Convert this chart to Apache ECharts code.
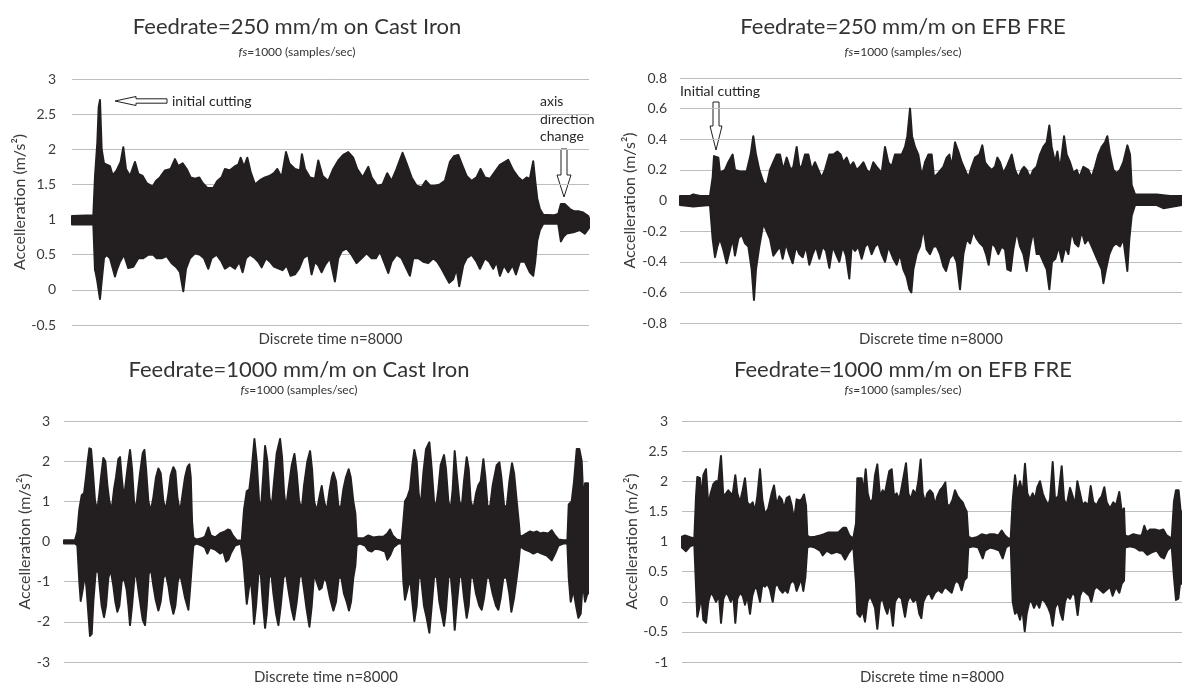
<!DOCTYPE html>
<html>
<head>
<meta charset="utf-8">
<title>Acceleration signals</title>
<script src="https://cdn.jsdelivr.net/npm/echarts@6/dist/echarts.min.js"></script>
<style>
  html, body { margin: 0; padding: 0; background: #fff; }
  #chart { width: 1182px; height: 686px; }
</style>
</head>
<body>
<div id="chart"></div>
<script>
// envelopes: [sample n, acceleration]
const tlUpper = [[0,1.05],[330,1.06],[356,1.62],[392,2.1],[413,2.6],[433,2.7],[459,2.0],[495,1.8],[588,1.76],[629,1.63],[691,1.7],[753,1.82],[794,2.03],[835,1.72],[897,1.62],[975,1.82],[1026,1.65],[1093,1.62],[1155,1.52],[1248,1.47],[1299,1.55],[1361,1.6],[1439,1.7],[1526,1.72],[1593,1.86],[1645,1.76],[1712,1.8],[1774,1.72],[1836,1.6],[1903,1.58],[1970,1.6],[2021,1.52],[2094,1.45],[2186,1.45],[2248,1.55],[2315,1.6],[2367,1.72],[2444,1.7],[2522,1.76],[2573,1.78],[2609,1.88],[2661,1.75],[2713,1.88],[2764,1.68],[2831,1.5],[2909,1.56],[2986,1.6],[3053,1.62],[3125,1.66],[3177,1.72],[3244,1.6],[3311,1.96],[3362,1.8],[3450,1.72],[3527,1.7],[3558,1.93],[3605,1.72],[3682,1.6],[3759,1.58],[3811,1.84],[3878,1.62],[3965,1.55],[4043,1.72],[4120,1.84],[4197,1.92],[4275,1.96],[4352,1.88],[4414,1.72],[4497,1.6],[4584,1.75],[4636,1.6],[4723,1.48],[4806,1.5],[4878,1.66],[4945,1.55],[5023,1.72],[5115,1.95],[5177,1.8],[5255,1.6],[5332,1.48],[5409,1.46],[5476,1.55],[5548,1.48],[5616,1.48],[5693,1.5],[5770,1.55],[5848,1.82],[5910,1.9],[5977,1.92],[6044,1.76],[6106,1.62],[6184,1.55],[6260,1.6],[6322,1.72],[6389,1.6],[6467,1.58],[6544,1.68],[6621,1.78],[6699,1.82],[6750,1.85],[6828,1.7],[6905,1.6],[6972,1.55],[7034,1.6],[7085,1.58],[7137,1.83],[7168,1.55],[7199,1.3],[7240,1.15],[7292,1.07],[7446,1.06],[7524,1.08],[7565,1.22],[7627,1.22],[7704,1.15],[7766,1.12],[7833,1.12],[7910,1.1],[7988,1.05],[8000,1.02]];
const tlLower = [[0,0.93],[330,0.93],[356,0.28],[366,0.25],[392,0.12],[433,-0.13],[459,0.12],[495,0.45],[536,0.5],[588,0.45],[665,0.19],[700,0.3],[743,0.4],[804,0.5],[871,0.31],[949,0.33],[1026,0.45],[1103,0.45],[1181,0.5],[1258,0.5],[1310,0.45],[1387,0.45],[1465,0.48],[1542,0.38],[1619,0.32],[1671,0.25],[1722,-0.02],[1764,0.3],[1826,0.45],[1903,0.52],[1980,0.5],[2042,0.45],[2109,0.3],[2160,0.45],[2238,0.5],[2315,0.4],[2367,0.3],[2444,0.35],[2522,0.3],[2589,0.4],[2640,0.25],[2692,0.45],[2754,0.5],[2831,0.45],[2883,0.4],[2934,0.32],[3001,0.45],[3063,0.4],[3125,0.33],[3208,0.3],[3259,0.28],[3321,0.35],[3383,0.2],[3450,0.22],[3512,0.3],[3579,0.45],[3656,0.5],[3707,0.22],[3759,0.4],[3810,0.35],[3862,0.25],[3914,0.35],[3991,0.45],[4068,0.12],[4120,0.45],[4172,0.55],[4249,0.59],[4326,0.5],[4404,0.38],[4481,0.45],[4558,0.52],[4636,0.45],[4703,0.45],[4765,0.55],[4827,0.4],[4894,0.24],[4945,0.4],[5023,0.5],[5100,0.45],[5177,0.3],[5229,0.2],[5280,0.45],[5358,0.45],[5435,0.4],[5512,0.38],[5590,0.45],[5652,0.4],[5719,0.3],[5796,0.17],[5837,0.1],[5899,0.15],[5951,0.3],[5992,0.05],[6054,0.35],[6106,0.45],[6184,0.5],[6260,0.4],[6312,0.3],[6389,0.45],[6456,0.4],[6518,0.3],[6570,0.4],[6621,0.2],[6683,0.35],[6750,0.25],[6817,0.35],[6869,0.22],[6931,0.4],[7008,0.4],[7085,0.25],[7137,0.2],[7168,0.4],[7199,0.7],[7240,0.85],[7292,0.94],[7524,0.94],[7565,0.69],[7601,0.75],[7653,0.8],[7756,0.82],[7859,0.85],[7936,0.8],[8000,0.88]];

const trUpper = [[0,0.03],[160,0.03],[212,0.04],[320,0.03],[478,0.03],[520,0.15],[542,0.29],[611,0.28],[637,0.18],[717,0.2],[770,0.25],[839,0.3],[876,0.2],[956,0.19],[1062,0.19],[1126,0.3],[1168,0.42],[1211,0.3],[1264,0.2],[1328,0.12],[1381,0.1],[1434,0.2],[1487,0.25],[1540,0.3],[1593,0.3],[1646,0.2],[1700,0.28],[1763,0.2],[1806,0.22],[1859,0.35],[1902,0.22],[1939,0.22],[1992,0.3],[2045,0.3],[2098,0.2],[2151,0.25],[2204,0.2],[2257,0.15],[2311,0.2],[2380,0.3],[2443,0.3],[2507,0.32],[2560,0.3],[2603,0.25],[2656,0.28],[2709,0.22],[2762,0.25],[2815,0.2],[2868,0.22],[2922,0.25],[2975,0.2],[3028,0.18],[3081,0.25],[3134,0.22],[3214,0.18],[3267,0.35],[3320,0.25],[3373,0.22],[3426,0.3],[3480,0.3],[3533,0.3],[3586,0.35],[3623,0.42],[3666,0.6],[3698,0.42],[3745,0.35],[3798,0.3],[3852,0.16],[3905,0.25],[3958,0.3],[4011,0.3],[4048,0.15],[4117,0.18],[4197,0.22],[4250,0.28],[4293,0.3],[4330,0.22],[4383,0.38],[4436,0.32],[4489,0.25],[4542,0.2],[4595,0.15],[4648,0.22],[4701,0.28],[4771,0.3],[4818,0.36],[4861,0.25],[4914,0.22],[4967,0.2],[5020,0.22],[5057,0.28],[5100,0.25],[5153,0.18],[5206,0.22],[5286,0.3],[5339,0.2],[5392,0.15],[5445,0.2],[5482,0.22],[5525,0.2],[5578,0.15],[5631,0.2],[5684,0.22],[5737,0.3],[5790,0.35],[5844,0.38],[5886,0.49],[5923,0.35],[5976,0.25],[6014,0.32],[6056,0.2],[6120,0.42],[6162,0.3],[6215,0.25],[6269,0.18],[6322,0.2],[6364,0.15],[6428,0.22],[6508,0.2],[6561,0.15],[6614,0.22],[6667,0.3],[6720,0.35],[6773,0.38],[6810,0.42],[6853,0.3],[6906,0.2],[6959,0.18],[7012,0.2],[7065,0.25],[7129,0.36],[7172,0.3],[7198,0.1],[7251,0.04],[7384,0.04],[7597,0.04],[7810,0.03],[8000,0.03]];
const trLower = [[0,-0.03],[212,-0.04],[478,-0.03],[520,-0.25],[558,-0.37],[595,-0.3],[637,-0.25],[690,-0.32],[743,-0.41],[797,-0.32],[839,-0.25],[876,-0.36],[929,-0.25],[982,-0.22],[1036,-0.28],[1089,-0.3],[1142,-0.45],[1179,-0.65],[1211,-0.45],[1264,-0.3],[1328,-0.15],[1381,-0.2],[1434,-0.25],[1487,-0.36],[1540,-0.33],[1593,-0.3],[1636,-0.38],[1689,-0.28],[1742,-0.35],[1795,-0.41],[1848,-0.3],[1902,-0.35],[1955,-0.37],[2008,-0.3],[2061,-0.42],[2114,-0.35],[2168,-0.3],[2220,-0.38],[2273,-0.3],[2327,-0.33],[2380,-0.44],[2433,-0.3],[2486,-0.35],[2539,-0.4],[2592,-0.3],[2645,-0.36],[2698,-0.51],[2735,-0.3],[2789,-0.33],[2842,-0.3],[2895,-0.38],[2948,-0.3],[3001,-0.28],[3054,-0.35],[3107,-0.3],[3160,-0.28],[3214,-0.35],[3267,-0.4],[3320,-0.3],[3400,-0.38],[3453,-0.42],[3506,-0.35],[3559,-0.45],[3612,-0.5],[3655,-0.58],[3687,-0.6],[3719,-0.45],[3772,-0.35],[3825,-0.3],[3878,-0.18],[3931,-0.32],[3984,-0.35],[4037,-0.3],[4090,-0.3],[4144,-0.35],[4197,-0.43],[4239,-0.46],[4292,-0.38],[4356,-0.35],[4409,-0.4],[4462,-0.58],[4516,-0.35],[4569,-0.25],[4622,-0.28],[4675,-0.2],[4728,-0.25],[4781,-0.28],[4834,-0.3],[4877,-0.35],[4919,-0.42],[4967,-0.28],[5020,-0.3],[5073,-0.35],[5127,-0.3],[5180,-0.32],[5217,-0.45],[5270,-0.46],[5312,-0.32],[5366,-0.2],[5419,-0.3],[5472,-0.35],[5525,-0.46],[5578,-0.3],[5631,-0.2],[5684,-0.35],[5737,-0.35],[5790,-0.4],[5844,-0.45],[5886,-0.58],[5928,-0.4],[5981,-0.38],[6035,-0.3],[6088,-0.4],[6141,-0.3],[6189,-0.35],[6242,-0.2],[6295,-0.28],[6348,-0.3],[6402,-0.2],[6455,-0.28],[6508,-0.25],[6561,-0.3],[6614,-0.35],[6667,-0.4],[6720,-0.45],[6747,-0.54],[6789,-0.45],[6842,-0.35],[6895,-0.3],[6948,-0.28],[7012,-0.3],[7065,-0.25],[7129,-0.46],[7161,-0.25],[7198,-0.1],[7251,-0.03],[7597,-0.03],[7703,-0.05],[8000,-0.03]];

const blUpper = [[0,0.03],[168,0.03],[204,0.25],[234,0.8],[270,1.15],[306,1.2],[336,1.6],[362,2.0],[387,2.32],[413,2.3],[438,1.8],[474,1.0],[509,0.78],[540,1.2],[565,1.6],[601,2.08],[631,2.0],[662,1.4],[692,1.0],[728,0.78],[764,1.3],[794,1.6],[830,2.05],[855,2.1],[881,1.6],[906,1.2],[932,1.3],[972,1.85],[1008,2.28],[1039,1.8],[1069,1.0],[1100,0.78],[1125,1.2],[1161,1.7],[1202,2.2],[1227,2.28],[1253,1.8],[1288,1.0],[1324,0.75],[1364,1.1],[1405,1.6],[1441,1.82],[1476,1.7],[1517,1.0],[1553,0.78],[1594,1.2],[1629,1.65],[1670,1.85],[1700,1.75],[1731,1.1],[1772,0.72],[1812,1.2],[1848,1.6],[1884,1.85],[1914,1.92],[1935,1.6],[1955,0.5],[1975,0.1],[2026,0.05],[2103,0.08],[2153,0.12],[2204,0.35],[2240,0.15],[2306,0.1],[2382,0.2],[2459,0.25],[2500,0.3],[2535,0.28],[2576,0.15],[2637,0.03],[2713,0.02],[2749,0.8],[2790,1.25],[2830,1.3],[2866,1.8],[2907,2.55],[2942,2.0],[2978,1.0],[3009,0.85],[3044,1.7],[3070,2.38],[3105,2.0],[3136,1.1],[3171,0.85],[3207,1.5],[3248,2.2],[3299,2.55],[3329,2.1],[3360,1.2],[3390,0.8],[3426,1.3],[3477,1.9],[3518,2.18],[3553,1.7],[3589,1.0],[3630,0.8],[3665,1.4],[3716,2.0],[3757,2.25],[3787,1.8],[3818,1.0],[3858,0.75],[3899,1.1],[3935,1.38],[3970,1.0],[4011,0.75],[4052,1.25],[4090,1.6],[4112,1.72],[4153,1.5],[4188,0.9],[4224,0.8],[4265,1.3],[4305,1.6],[4346,1.8],[4377,1.6],[4417,1.0],[4448,0.7],[4468,0.1],[4494,0.08],[4570,0.08],[4646,0.15],[4723,0.1],[4799,0.12],[4876,0.12],[4937,0.2],[4977,0.3],[5018,0.15],[5079,0.05],[5155,0.02],[5181,0.5],[5206,1.0],[5242,1.1],[5282,1.3],[5318,1.9],[5349,2.28],[5384,2.0],[5415,1.2],[5445,0.85],[5486,1.7],[5527,2.3],[5578,2.47],[5614,1.8],[5649,1.0],[5680,0.85],[5715,1.3],[5751,1.9],[5802,2.15],[5832,1.8],[5868,1.0],[5904,0.8],[5934,1.3],[5965,2.25],[5995,1.7],[6036,1.0],[6072,0.85],[6107,1.5],[6148,2.1],[6179,1.8],[6209,1.0],[6250,0.8],[6291,1.2],[6326,1.4],[6362,1.5],[6403,2.05],[6433,1.6],[6464,0.9],[6504,0.85],[6545,1.4],[6606,1.9],[6647,1.97],[6677,1.6],[6718,0.9],[6759,0.85],[6800,1.5],[6840,1.95],[6871,1.7],[6912,1.0],[6942,0.5],[6962,0.12],[7013,0.15],[7064,0.2],[7115,0.25],[7166,0.22],[7217,0.25],[7268,0.2],[7319,0.22],[7395,0.2],[7446,0.28],[7497,0.15],[7548,0.05],[7624,0.03],[7685,0.03],[7706,0.92],[7751,1.0],[7787,1.5],[7828,2.3],[7868,2.3],[7904,2.0],[7929,1.0],[7955,1.45],[7980,1.45],[8000,1.45]];
const blLower = [[0,-0.05],[168,-0.05],[204,-0.1],[234,-1.0],[255,-1.48],[285,-1.2],[321,-0.8],[346,-1.2],[372,-1.8],[397,-2.35],[423,-2.3],[448,-1.5],[484,-0.75],[525,-0.75],[550,-1.2],[575,-1.6],[611,-1.88],[642,-1.6],[677,-0.9],[713,-0.7],[753,-1.1],[784,-1.5],[815,-1.75],[845,-1.6],[881,-1.0],[916,-0.9],[957,-1.2],[983,-1.6],[1008,-2.08],[1039,-1.6],[1075,-0.9],[1100,-0.75],[1135,-1.2],[1171,-1.6],[1202,-1.95],[1237,-2.08],[1263,-1.6],[1293,-0.8],[1329,-0.7],[1364,-1.1],[1400,-1.45],[1441,-1.72],[1476,-1.5],[1517,-0.9],[1553,-0.8],[1594,-1.1],[1629,-1.5],[1670,-1.8],[1700,-1.6],[1736,-1.0],[1772,-0.8],[1812,-1.1],[1848,-1.4],[1899,-1.7],[1924,-1.2],[1955,-0.5],[1975,-0.1],[2026,-0.05],[2103,-0.1],[2153,-0.15],[2189,-0.3],[2230,-0.15],[2306,-0.2],[2382,-0.3],[2433,-0.25],[2474,-0.5],[2510,-0.45],[2545,-0.3],[2611,-0.1],[2698,-0.05],[2739,-0.5],[2764,-1.0],[2790,-1.55],[2820,-1.2],[2851,-0.9],[2882,-1.5],[2902,-2.05],[2932,-1.6],[2968,-0.8],[3004,-0.8],[3034,-1.5],[3070,-2.15],[3095,-1.8],[3131,-0.9],[3166,-0.8],[3197,-1.3],[3238,-1.8],[3273,-2.08],[3309,-1.6],[3350,-0.9],[3390,-0.8],[3426,-1.2],[3477,-1.7],[3512,-1.95],[3553,-1.5],[3594,-0.9],[3630,-0.8],[3665,-1.2],[3706,-1.7],[3747,-2.12],[3782,-1.6],[3818,-0.8],[3858,-1.0],[3899,-1.2],[3935,-1.15],[3970,-0.9],[4011,-1.0],[4061,-1.4],[4112,-1.72],[4153,-1.5],[4193,-0.9],[4234,-0.9],[4275,-1.3],[4316,-1.5],[4351,-1.72],[4382,-1.5],[4417,-0.9],[4448,-0.6],[4468,-0.1],[4519,-0.05],[4595,-0.1],[4646,-0.22],[4697,-0.25],[4748,-0.18],[4825,-0.2],[4901,-0.25],[4937,-0.45],[4977,-0.35],[5028,-0.15],[5104,-0.05],[5155,-0.05],[5181,-1.0],[5206,-1.45],[5242,-1.2],[5282,-0.9],[5318,-1.5],[5349,-1.98],[5384,-1.6],[5415,-0.9],[5451,-0.9],[5496,-1.6],[5537,-1.9],[5578,-2.27],[5614,-1.6],[5649,-0.9],[5690,-0.85],[5731,-1.5],[5766,-1.8],[5802,-2.1],[5832,-1.7],[5868,-0.9],[5904,-0.85],[5934,-1.4],[5965,-2.2],[5995,-1.6],[6036,-0.9],[6072,-0.85],[6107,-1.4],[6148,-1.9],[6179,-1.6],[6209,-0.9],[6250,-0.9],[6291,-1.3],[6341,-1.6],[6377,-1.7],[6413,-1.4],[6453,-0.9],[6494,-0.9],[6545,-1.3],[6596,-1.6],[6631,-1.7],[6667,-1.4],[6708,-0.9],[6759,-0.9],[6800,-1.3],[6830,-1.75],[6871,-1.4],[6912,-0.9],[6942,-0.5],[6962,-0.12],[7039,-0.2],[7115,-0.25],[7166,-0.3],[7227,-0.25],[7293,-0.3],[7370,-0.35],[7446,-0.47],[7497,-0.3],[7548,-0.1],[7624,-0.05],[7685,-0.05],[7706,-0.9],[7736,-1.5],[7777,-1.2],[7818,-1.6],[7853,-1.9],[7889,-1.8],[7919,-1.0],[7955,-1.5],[7990,-1.3],[8000,-1.3]];

const brUpper = [[0,1.08],[48,1.1],[128,1.07],[197,1.05],[224,1.75],[245,2.07],[288,2.05],[315,1.7],[341,2.1],[384,2.2],[421,1.6],[459,1.8],[501,1.95],[544,2.0],[581,2.0],[624,2.42],[661,1.75],[704,1.8],[741,1.85],[779,1.8],[811,1.78],[853,2.1],[885,1.8],[928,1.65],[971,1.85],[1008,2.05],[1045,1.65],[1088,1.6],[1131,1.65],[1168,1.5],[1205,1.75],[1248,2.2],[1285,1.7],[1328,1.45],[1381,1.55],[1435,1.8],[1472,1.93],[1515,1.6],[1557,1.75],[1595,1.7],[1632,1.55],[1675,1.72],[1717,1.75],[1755,1.6],[1792,1.35],[1834,1.7],[1877,1.68],[1914,1.7],[1952,1.78],[1984,1.6],[2005,1.1],[2048,1.07],[2128,1.08],[2208,1.1],[2272,1.12],[2341,1.15],[2421,1.15],[2501,1.15],[2581,1.23],[2624,1.23],[2677,1.1],[2741,1.05],[2784,1.3],[2805,2.05],[2837,2.05],[2875,2.05],[2901,1.8],[2939,2.2],[2971,1.8],[3008,1.65],[3051,1.7],[3088,2.1],[3125,2.28],[3168,1.75],[3211,1.85],[3248,1.8],[3285,2.0],[3317,2.17],[3355,2.2],[3392,1.75],[3434,1.8],[3477,1.7],[3515,1.9],[3584,2.3],[3621,1.8],[3659,1.7],[3701,1.85],[3744,1.78],[3781,2.0],[3819,2.36],[3851,1.8],[3888,1.65],[3925,1.8],[3968,1.85],[4011,1.8],[4048,1.6],[4085,1.75],[4128,1.85],[4171,1.9],[4213,1.98],[4245,1.6],[4288,1.6],[4331,1.7],[4368,1.85],[4411,1.75],[4448,1.7],[4491,1.65],[4528,1.55],[4555,1.5],[4581,1.08],[4635,1.05],[4715,1.07],[4795,1.12],[4875,1.1],[4928,1.12],[4992,1.12],[5061,1.1],[5115,1.18],[5168,1.1],[5221,1.05],[5259,1.05],[5291,1.67],[5328,2.1],[5365,1.8],[5408,2.0],[5451,1.8],[5488,2.29],[5525,1.8],[5568,1.7],[5611,1.8],[5648,1.7],[5685,1.9],[5728,2.0],[5771,1.8],[5808,1.7],[5861,1.6],[5888,1.7],[5931,2.32],[5968,1.7],[6021,1.75],[6075,2.25],[6112,1.7],[6154,1.6],[6208,1.89],[6251,1.75],[6288,1.6],[6325,2.0],[6368,1.8],[6411,1.6],[6448,1.65],[6501,1.6],[6539,1.92],[6581,1.65],[6635,1.6],[6677,1.7],[6715,1.75],[6757,1.9],[6795,1.65],[6848,1.55],[6901,1.65],[6944,1.6],[6997,1.82],[7035,1.5],[7072,1.55],[7088,1.1],[7141,1.08],[7221,1.12],[7301,1.1],[7355,1.1],[7397,1.26],[7435,1.15],[7488,1.2],[7568,1.2],[7637,1.18],[7701,1.2],[7755,1.1],[7835,1.05],[7872,1.67],[7904,1.85],[7946,1.85],[7978,1.5],[8000,1.5]];
const brLower = [[0,0.9],[64,0.84],[128,0.92],[197,0.95],[224,0.25],[245,-0.25],[277,-0.1],[309,0.1],[341,-0.3],[384,-0.35],[421,0.0],[459,0.15],[501,0.1],[544,0.0],[592,0.1],[624,-0.35],[661,0.05],[704,0.15],[741,0.1],[779,0.0],[821,0.1],[853,-0.35],[885,0.05],[928,0.15],[971,0.1],[1008,-0.05],[1045,0.1],[1088,-0.2],[1125,0.1],[1168,0.25],[1205,0.2],[1248,0.0],[1285,0.28],[1328,0.25],[1365,0.3],[1408,0.2],[1451,0.0],[1488,0.25],[1525,0.3],[1568,0.2],[1611,0.15],[1648,0.2],[1691,0.15],[1728,0.3],[1771,0.35],[1808,0.3],[1834,0.18],[1877,0.3],[1904,0.4],[1941,0.18],[1973,0.4],[2005,0.9],[2048,0.92],[2128,0.9],[2208,0.85],[2251,0.77],[2315,0.85],[2395,0.8],[2475,0.83],[2555,0.8],[2608,0.7],[2661,0.8],[2741,0.92],[2784,0.3],[2805,-0.2],[2848,-0.25],[2891,-0.15],[2928,-0.33],[2965,0.0],[3008,0.1],[3051,0.0],[3088,-0.1],[3125,-0.45],[3168,0.0],[3211,0.05],[3248,-0.1],[3285,-0.2],[3328,0.0],[3375,-0.4],[3408,0.0],[3461,0.1],[3515,0.05],[3568,-0.25],[3605,0.0],[3648,0.1],[3701,0.0],[3755,0.05],[3797,-0.2],[3829,-0.27],[3861,0.0],[3904,0.1],[3957,0.15],[3999,0.05],[4048,0.15],[4101,0.2],[4155,0.15],[4208,0.25],[4261,0.2],[4315,0.15],[4357,0.3],[4395,0.35],[4437,0.3],[4475,0.19],[4512,0.35],[4555,0.4],[4581,0.9],[4661,0.92],[4741,0.9],[4811,0.72],[4848,0.85],[4928,0.9],[5008,0.88],[5077,0.85],[5131,0.72],[5184,0.9],[5259,0.95],[5291,0.0],[5328,-0.2],[5365,-0.15],[5408,-0.3],[5445,-0.1],[5483,-0.49],[5515,-0.2],[5557,0.0],[5595,0.0],[5632,-0.1],[5675,0.0],[5717,-0.1],[5755,0.05],[5808,0.0],[5861,-0.1],[5898,-0.2],[5931,-0.4],[5968,-0.1],[6021,0.0],[6059,-0.2],[6091,-0.3],[6128,0.0],[6165,0.1],[6208,0.05],[6251,0.15],[6288,0.1],[6330,-0.22],[6368,0.1],[6411,0.2],[6464,0.15],[6517,0.1],[6549,0.0],[6592,0.2],[6635,0.25],[6688,0.2],[6741,0.15],[6795,0.2],[6848,0.25],[6890,0.1],[6944,0.25],[6997,0.15],[7035,0.3],[7072,0.35],[7088,0.9],[7168,0.92],[7248,0.9],[7317,0.85],[7381,0.85],[7445,0.78],[7515,0.82],[7595,0.85],[7659,0.75],[7712,0.72],[7765,0.85],[7835,0.92],[7872,0.4],[7904,0.03],[7941,0.05],[7968,0.3],[8000,0.3]];

// y axis: [min, max, interval]
const tlTicks = [-0.5, 3, 0.5];
const trTicks = [-0.8, 0.8, 0.2];
const blTicks = [-3, 3, 1];
const brTicks = [-1, 3, 0.5];

const titles = ['Feedrate=250 mm/m on Cast Iron', 'Feedrate=250 mm/m on EFB FRE',
  'Feedrate=1000 mm/m on Cast Iron', 'Feedrate=1000 mm/m on EFB FRE'];
const subTitle = '{i|fs}=1000 (samples/sec)';
const xName = 'Discrete time n=8000';
const yName = 'Accelleration (m/s\u00b2)';

const INK = '#231f20';
const TXT = '#3a3a3a';
const FONT = 'Lato';

const panels = [
  { grid: { left: 72, top: 79, width: 517, height: 246 }, ticks: tlTicks, up: tlUpper, lo: tlLower, cx: 297, ty: 16, sy: 46, yGap: 39, lblGap: 16, xGap: 7 },
  { grid: { left: 680, top: 78, width: 502, height: 245 }, ticks: trTicks, up: trUpper, lo: trLower, cx: 903, ty: 16, sy: 46, yGap: 42, lblGap: 13, xGap: 9 },
  { grid: { left: 64, top: 421, width: 524, height: 243 }, ticks: blTicks, up: blUpper, lo: blLower, cx: 299, ty: 359, sy: 384, yGap: 31, lblGap: 14, xGap: 8 },
  { grid: { left: 682, top: 421, width: 500, height: 243 }, ticks: brTicks, up: brUpper, lo: brLower, cx: 903, ty: 359, sy: 384, yGap: 42, lblGap: 14, xGap: 8 }
];

function bandSeries(i, upper, lower) {
  return {
    type: 'custom',
    xAxisIndex: i,
    yAxisIndex: i,
    data: [[0, 0]],
    silent: true,
    renderItem: function (params, api) {
      const pts = upper.map(p => api.coord(p));
      for (let k = lower.length - 1; k >= 0; k--) pts.push(api.coord(lower[k]));
      return {
        type: 'polygon',
        shape: { points: pts },
        style: { fill: INK, stroke: INK, lineWidth: 2, lineJoin: 'round' }
      };
    }
  };
}

const option = {
  animation: false,
  backgroundColor: '#fff',
  textStyle: { fontFamily: FONT },
  title: [],
  grid: panels.map(p => p.grid),
  xAxis: panels.map((p, i) => ({
    type: 'value', gridIndex: i, min: 0, max: 8000,
    axisLine: { show: false }, axisTick: { show: false },
    axisLabel: { show: false }, splitLine: { show: false },
    name: xName, nameLocation: 'middle', nameGap: p.xGap,
    nameTextStyle: { fontSize: 15, color: TXT, fontFamily: FONT, verticalAlign: 'top' }
  })),
  yAxis: panels.map((p, i) => ({
    type: 'value', gridIndex: i, min: p.ticks[0], max: p.ticks[1], interval: p.ticks[2],
    axisLine: { show: false }, axisTick: { show: false },
    axisLabel: { fontSize: 14, color: TXT, fontFamily: FONT, margin: p.lblGap },
    splitLine: { lineStyle: { color: '#bdbdbd', width: 1 } },
    name: yName, nameLocation: 'middle', nameGap: p.yGap, nameRotate: 90,
    nameTextStyle: { fontSize: 16, color: TXT, fontFamily: FONT }
  })),
  series: panels.map((p, i) => bandSeries(i, p.up, p.lo)),
  graphic: [
    { type: 'polygon', shape: { points: [[115, 101], [136, 96.5], [136, 98.8], [167, 98.8], [167, 103.2], [136, 103.2], [136, 105.5]] },
      style: { fill: '#fff', stroke: INK, lineWidth: 1 } },
    { type: 'text', x: 172, y: 101, style: { text: 'initial cutting', font: '14px Lato', fill: '#262626', verticalAlign: 'middle' } },
    { type: 'text', x: 540, y: 93, style: { text: 'axis\ndirection\nchange', font: '14px Lato', lineHeight: 17.5, fill: '#262626', verticalAlign: 'top' } },
    { type: 'polygon', shape: { points: [[561, 149], [567, 149], [567, 175], [571, 175], [564, 197], [557, 175], [561, 175]] },
      style: { fill: '#fff', stroke: INK, lineWidth: 1 } },
    { type: 'text', x: 680, y: 91, style: { text: 'Initial cutting', font: '14px Lato', fill: '#262626', verticalAlign: 'middle' } },
    { type: 'polygon', shape: { points: [[713, 102], [719, 102], [719, 126], [722, 126], [716, 150], [710, 126], [713, 126]] },
      style: { fill: '#fff', stroke: INK, lineWidth: 1 } }
  ]
};

panels.forEach((p, i) => {
  option.title.push({
    text: titles[i], left: p.cx, top: p.ty, textAlign: 'center', padding: 0,
    textStyle: { fontSize: 22, fontWeight: 'normal', color: '#333', fontFamily: FONT }
  });
  option.title.push({
    text: subTitle, left: p.cx, top: p.sy, textAlign: 'center', padding: 0,
    textStyle: { fontSize: 12, fontWeight: 'normal', color: '#333', fontFamily: FONT,
      rich: { i: { fontStyle: 'italic', fontSize: 12, color: '#333', fontFamily: FONT } } }
  });
});

const chart = echarts.init(document.getElementById('chart'));
chart.setOption(option);
</script>
</body>
</html>
